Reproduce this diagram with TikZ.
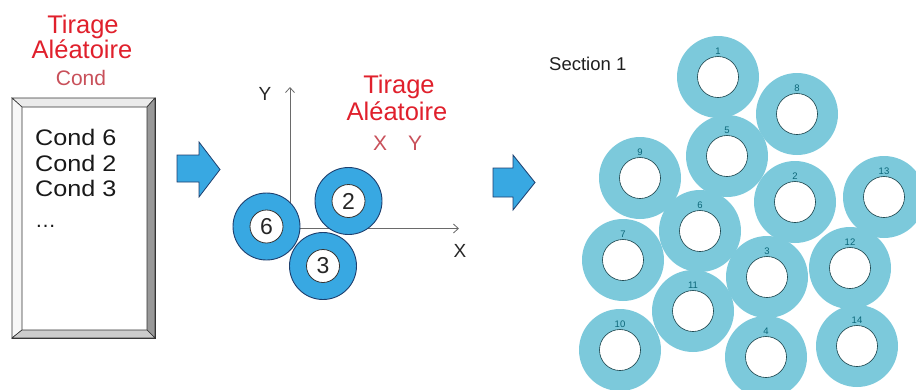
\documentclass[tikz,border=0pt]{standalone}
\usepackage{fontspec}
\setmainfont{Liberation Sans}
\usetikzlibrary{arrows.meta}
\definecolor{titred}{HTML}{E0202C}
\definecolor{condred}{HTML}{C8505A}
\definecolor{midblue}{HTML}{38A8E2}
\definecolor{midedge}{HTML}{1E3F6E}
\definecolor{teal}{HTML}{7CC9DB}
\definecolor{tealtxt}{HTML}{0B6678}
\definecolor{inneredge}{HTML}{123C44}
\definecolor{axisgray}{HTML}{6A6A6A}
\newcommand{\fs}[1]{\fontsize{#1}{#1}\selectfont}
\newcommand{\wide}[1]{\scalebox{1.12}[1]{#1}}
\tikzset{
  title/.style={text=titred, anchor=base, inner sep=0pt, font=\fs{25.5}},
  subtitle/.style={text=condred, anchor=base, inner sep=0pt, font=\fs{21}},
  listtxt/.style={text=black!90, anchor=base west, inner sep=0pt, font=\fs{22.5}},
  bigring/.style={circle, fill=midblue, draw=midedge, line width=0.9pt, minimum size=67pt, inner sep=0pt},
  bighole/.style={circle, fill=white, draw=black!80, line width=0.8pt, minimum size=33pt, inner sep=0pt, font=\fs{23}, text=black!85},
  ring/.style={circle, fill=teal, minimum size=82pt, inner sep=0pt},
  hole/.style={circle, fill=white, draw=inneredge, line width=0.6pt, minimum size=41pt, inner sep=0pt},
  ringlbl/.style={text=tealtxt, font=\fs{9.5}, inner sep=0pt, anchor=base},
  blockarrow/.style={fill=midblue, draw=midedge, line width=0.8pt, line join=miter},
  axis/.style={draw=axisgray, line width=0.8pt, -{Straight Barb[length=5pt,width=9pt]}},
  axlbl/.style={anchor=base, inner sep=0pt, font=\fs{19}, text=black!85}
}
\begin{document}
\begin{tikzpicture}[x=1pt,y=-1pt]
\useasboundingbox (0,0) rectangle (916,389);
% ---------- left panel ----------
\node[title] (t1) at (83,33) {Tirage};
\node[title] (t2) at (82,58) {Aléatoire};
\node[subtitle] (t3) at (81,85) {Cond};
\node[draw=black!85, line width=0.7pt, minimum width=143pt, minimum height=240pt, inner sep=0pt] (box) at (83.5,218) {};
\begin{scope}[draw=black!80, line width=0.6pt]
\filldraw[fill=black!8] (12,98) -- (155,98) -- (147,107) -- (22,107) -- cycle;
\filldraw[fill=black!3] (12,98) -- (22,107) -- (22,330) -- (12,338) -- cycle;
\filldraw[fill=black!40] (155,98) -- (155,338) -- (147,330) -- (147,107) -- cycle;
\filldraw[fill=black!20] (12,338) -- (155,338) -- (147,330) -- (22,330) -- cycle;
\end{scope}
\node[listtxt] (c6) at (35,145) {\wide{Cond 6}};
\node[listtxt] (c2) at (35,171) {\wide{Cond 2}};
\node[listtxt] (c3) at (35,196) {\wide{Cond 3}};
\node[listtxt, font=\fs{21}] (dots) at (35,227) {…};
% ---------- arrows ----------
\draw[blockarrow] (177,155) -- (199,155) -- (199,142) -- (220,169.5) -- (199,197) -- (199,182) -- (177,182) -- cycle;
\draw[blockarrow] (493,168) -- (513,168) -- (513,155) -- (535,182.5) -- (513,210) -- (513,197) -- (493,197) -- cycle;
% ---------- middle panel ----------
\coordinate (o) at (290,228.5);
\coordinate (ytip) at (290,87);
\coordinate (xtip) at (459,228.5);
\draw[axis] (o) -- (ytip);
\draw[axis] (o) -- (xtip);
\node[axlbl] (ylbl) at (265,100) {Y};
\node[axlbl] (xlbl) at (460,257) {X};
\node[title] (m1) at (399,93) {Tirage};
\node[title] (m2) at (397,120) {Aléatoire};
\node[subtitle] (mx) at (380,150) {X};
\node[subtitle] (my) at (415,150) {Y};
\node[bigring] (r6) at (266.5,226.5) {};
\node[bighole] (h6) at (r6.center) {6};
\node[bigring] (r2) at (348.5,201) {};
\node[bighole] (h2) at (r2.center) {2};
\node[bigring] (r3) at (323,266) {};
\node[bighole] (h3) at (r3.center) {3};
% ---------- right panel ----------
\node[anchor=base west, inner sep=0pt, font=\fs{18.5}, text=black!88] (sec) at (549,70) {Section 1};
\foreach \n/\x/\y in {1/718/77, 8/797/114, 5/727/156, 9/640/178, 2/795/202, 13/884/197,
                      6/700/231, 7/623/260, 3/767/277, 12/850/268, 11/693/311,
                      10/620/350, 4/766/357, 14/857/346}{
  \node[ring] (ring\n) at (\x,\y) {};
}
\foreach \n/\x/\y in {1/718/77, 8/797/114, 5/727/156, 9/640/178, 2/795/202, 13/884/197,
                      6/700/231, 7/623/260, 3/767/277, 12/850/268, 11/693/311,
                      10/620/350, 4/766/357, 14/857/346}{
  \node[hole] (hole\n) at (\x,\y) {};
  \node[ringlbl] (lbl\n) at ([yshift=1.5pt]hole\n.north) {\n};
}
\end{tikzpicture}
\end{document}
